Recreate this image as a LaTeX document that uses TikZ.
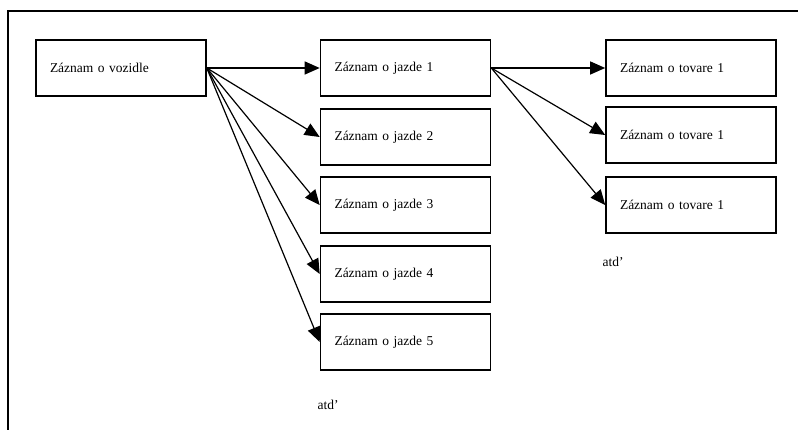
\documentclass[tikz,border=0pt]{standalone}
\usepackage{fontspec}
\setmainfont{Liberation Serif}
\usetikzlibrary{arrows.meta,positioning}

\begin{document}
\begin{tikzpicture}[x=1pt,y=-1pt,
    zaznam/.style={draw, line width=1.6pt, text width=142pt, inner xsep=14pt,
                   minimum height=56pt, align=left, font=\fontsize{13.5}{16}\selectfont},
    sipka/.style={-{Triangle[length=15pt,width=13pt]}, line width=1.2pt}]
    \useasboundingbox (0,0) rectangle (798,430);
    % ramik
    \draw[line width=1.8pt] (8,430) -- (8,11) -- (798,11);
    % zaznamy
    \node [zaznam] (vozidlo) at (121,68) {Záznam o vozidle};
    \node [zaznam] (jazda1) at (405.5,68) {Záznam o jazde 1};
    \node [zaznam] (jazda2) at (405.5,137) {Záznam o jazde 2};
    \node [zaznam] (jazda3) at (405.5,205) {Záznam o jazde 3};
    \node [zaznam] (jazda4) at (405.5,274) {Záznam o jazde 4};
    \node [zaznam] (jazda5) at (405.5,342) {Záznam o jazde 5};
    \node [zaznam] (tovar1) at (691,68) {Záznam o tovare 1};
    \node [zaznam] (tovar2) at (691,135) {Záznam o tovare 1};
    \node [zaznam] (tovar3) at (691,205) {Záznam o tovare 1};
    \node [anchor=west, font=\fontsize{13.5}{16}\selectfont] (atd1) at (314,405) {atd'};
    \node [anchor=west, font=\fontsize{13.5}{16}\selectfont] (atd2) at (599,262) {atd'};
    % sipky
    \foreach \j in {1,...,5}
        \draw [sipka] (vozidlo.east) -- (jazda\j.west);
    \foreach \t in {1,2,3}
        \draw [sipka] (jazda1.east) -- (tovar\t.west);
\end{tikzpicture}
\end{document}
